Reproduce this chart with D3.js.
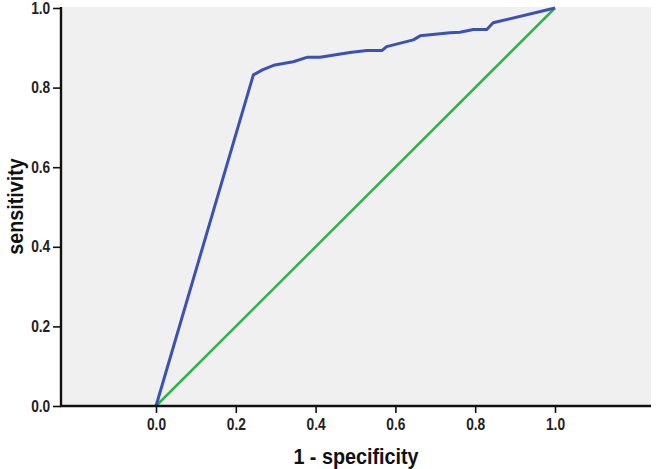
<!DOCTYPE html>
<html>
<head>
<meta charset="utf-8">
<script src="https://cdn.jsdelivr.net/npm/d3@7"></script>
<style>
  body { margin: 0; background: #fff; }
  text { font-family: "Liberation Sans", Arial, sans-serif; }
</style>
</head>
<body>
<div id="chart"></div>
<script>
// roc curve points (1 - specificity, sensitivity)
var fpr = [0, 0.244, 0.268, 0.298, 0.344, 0.378, 0.411, 0.486, 0.528, 0.566, 0.578, 0.645, 0.662, 0.737, 0.762, 0.795, 0.829, 0.845, 0.858, 1];
var tpr = [0, 0.832, 0.845, 0.857, 0.865, 0.876, 0.876, 0.888, 0.893, 0.893, 0.903, 0.920, 0.930, 0.938, 0.939, 0.946, 0.946, 0.963, 0.966, 1];
// reference diagonal
var refX = [0, 1];
var refY = [0, 1];
var tickVals = [0, 0.2, 0.4, 0.6, 0.8, 1.0];

var width = 656, height = 469;
var plotLeft = 61, plotRight = 651, plotTop = 7, plotBottom = 406;

var svg = d3.select("#chart").append("svg")
  .attr("width", width)
  .attr("height", height);

var x = d3.scaleLinear().domain([0, 1]).range([156, 555]);
var y = d3.scaleLinear().domain([0, 1]).range([plotBottom, 8]);

svg.append("rect")
  .attr("x", plotLeft)
  .attr("y", plotTop)
  .attr("width", plotRight - plotLeft)
  .attr("height", plotBottom - plotTop)
  .attr("fill", "#f0f0f0");

var line = d3.line()
  .x(function(d) { return x(d[0]); })
  .y(function(d) { return y(d[1]); });

svg.append("path")
  .datum(d3.zip(refX, refY))
  .attr("d", line)
  .attr("fill", "none")
  .attr("stroke", "#2eb34a")
  .attr("stroke-width", 2.5);

svg.append("path")
  .datum(d3.zip(fpr, tpr))
  .attr("d", line)
  .attr("fill", "none")
  .attr("stroke", "#3b52b4")
  .attr("stroke-width", 3)
  .attr("stroke-linejoin", "round");

// axes
var xAxis = d3.axisBottom(x).tickValues(tickVals).tickFormat(d3.format(".1f")).tickSize(7).tickSizeOuter(0);
var yAxis = d3.axisLeft(y).tickValues(tickVals).tickFormat(d3.format(".1f")).tickSize(8).tickSizeOuter(0);

var gx = svg.append("g").attr("transform", "translate(0," + plotBottom + ")").call(xAxis);
gx.select(".domain").remove();
gx.append("line")
  .attr("x1", plotLeft - 1).attr("x2", plotRight)
  .attr("y1", 0).attr("y2", 0)
  .attr("stroke", "#111").attr("stroke-width", 2.4);

var gy = svg.append("g").attr("transform", "translate(" + plotLeft + ",0)").call(yAxis);
gy.select(".domain").remove();
gy.append("line")
  .attr("x1", 0).attr("x2", 0)
  .attr("y1", plotTop).attr("y2", plotBottom + 1)
  .attr("stroke", "#111").attr("stroke-width", 2.4);

svg.selectAll(".tick line").attr("stroke", "#111").attr("stroke-width", 1.6);
// the reference font is a little condensed: squeeze the glyphs sideways
svg.selectAll(".tick text")
  .attr("fill", "#222")
  .attr("font-size", null)
  .attr("transform", "scale(0.86,1)")
  .style("font-size", "16px")
  .style("font-weight", "bold")
  .style("font-family", "'Liberation Sans', Arial, sans-serif");
gx.selectAll(".tick text").attr("dy", "0.85em");
gy.selectAll(".tick text").attr("x", -12.5);

svg.append("text")
  .attr("transform", "translate(" + (plotLeft + plotRight) / 2 + ",464) scale(0.92,1)")
  .attr("text-anchor", "middle")
  .style("font-size", "21.5px")
  .style("font-weight", "bold")
  .attr("fill", "#111")
  .text("1 - specificity");

svg.append("text")
  .attr("transform", "translate(23," + (plotBottom + plotTop) / 2 + ") rotate(-90) scale(0.92,1)")
  .attr("text-anchor", "middle")
  .style("font-size", "21.5px")
  .style("font-weight", "bold")
  .attr("fill", "#111")
  .text("sensitivity");
</script>
</body>
</html>
